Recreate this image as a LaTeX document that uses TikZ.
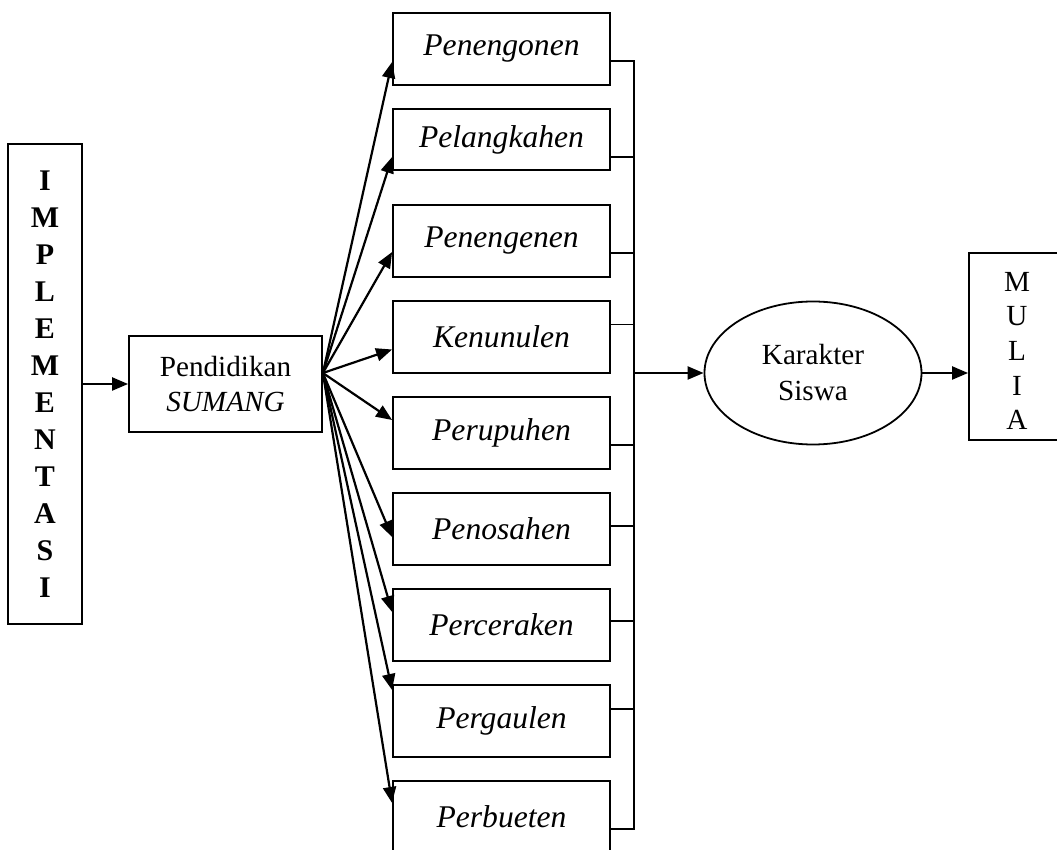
\documentclass[tikz,border=0pt]{standalone}
\usepackage{fontspec}
\setmainfont{Liberation Serif}
\usetikzlibrary{shapes.geometric, arrows.meta}
\tikzstyle{aspek} = [rectangle, minimum width=108.5pt, minimum height=36pt, text centered, draw=black, line width=0.9pt, font=\fontsize{15.8}{19}\selectfont\itshape]
\tikzstyle{pokok} = [rectangle, text centered, align=center, draw=black, line width=0.9pt, font=\fontsize{14.6}{17.5}\selectfont]
\tikzstyle{hasil} = [ellipse, text centered, align=center, draw=black, line width=0.9pt, font=\fontsize{14.6}{18}\selectfont]
\tikzstyle{arrow} = [line width=1.1pt,-{Triangle[length=8pt,width=6.5pt]}]
\tikzstyle{line} = [line width=0.75pt]

\begin{document}
\begin{tikzpicture}[x=0.5pt, y=-0.5pt, node distance=48pt]

	\useasboundingbox (0,0) rectangle (1057,850);

	\node (impl) [pokok, minimum width=37pt, minimum height=240pt, font=\fontsize{15}{18.5}\selectfont\bfseries] at (45,384) {I\\M\\P\\L\\E\\M\\E\\N\\T\\A\\S\\I};
	\node (pend) [pokok, minimum width=96.5pt, minimum height=48pt] at (225.5,384) {Pendidikan\\\textit{SUMANG}};

	\node (b1) [aspek] at (501.5,49) {Penengonen};
	\node (b2) [aspek, below of=b1, yshift=2.75pt, minimum height=30.5pt] {Pelangkahen};
	\node (b3) [aspek, below of=b2, yshift=-2.75pt] {Penengenen};
	\node (b4) [aspek, below of=b3] {Kenunulen};
	\node (b5) [aspek, below of=b4] {Perupuhen};
	\node (b6) [aspek, below of=b5] {Penosahen};
	\node (b7) [aspek, below of=b6] {Perceraken};
	\node (b8) [aspek, below of=b7] {Pergaulen};
	\node (b9) [aspek, below of=b8] {Perbueten};

	\node (kar) [hasil, minimum width=108.5pt, minimum height=71.5pt] at (813,373) {Karakter\\Siswa};
	\node (mulia) [pokok, minimum width=48pt, minimum height=93.5pt, font=\fontsize{14.6}{17.3}\selectfont] at (1017,346.5) {\raisebox{-3.5pt}[\height][\depth]{\begin{tabular}{@{}c@{}}M\\U\\L\\I\\A\end{tabular}}};

	\coordinate (fan) at ([yshift=5.5pt]pend.east);
	\coordinate (bus) at (634,373);

	\draw [arrow] (impl) -- (pend);
	\draw [arrow] (fan) -- ([yshift=-6.5pt]b1.west);
	\draw [arrow] (fan) -- ([yshift=-8.75pt]b2.west);
	\draw [arrow] (fan) -- ([yshift=-5.5pt]b3.west);
	\draw [arrow] (fan) -- ([yshift=-6.25pt]b4.west);
	\draw [arrow] (fan) -- ([yshift=6.5pt]b5.west);
	\draw [arrow] (fan) -- ([yshift=-4pt]b6.west);
	\draw [arrow] (fan) -- ([yshift=6.5pt]b7.west);
	\draw [arrow] (fan) -- ([yshift=15.5pt]b8.west);
	\draw [arrow] (fan) -- ([yshift=7pt]b9.west);

	\draw [line] ([yshift=-6pt]b1.east) -| (bus);
	\draw [line] ([yshift=-8.75pt]b2.east) -| (bus);
	\draw [line] ([yshift=-6pt]b3.east) -| (bus);
	\draw [line] ([yshift=6.25pt]b4.east) -| (bus);
	\draw [line] ([yshift=-6pt]b5.east) -| (bus);
	\draw [line] ([yshift=1.5pt]b6.east) -| (bus);
	\draw [line] ([yshift=2pt]b7.east) -| (bus);
	\draw [line] ([yshift=6pt]b8.east) -| (bus);
	\draw [line] ([yshift=-6pt]b9.east) -| (bus);

	\draw [arrow] (bus) -- (kar);
	\draw [arrow] (kar) -- (kar -| mulia.west);

\end{tikzpicture}
\end{document}
